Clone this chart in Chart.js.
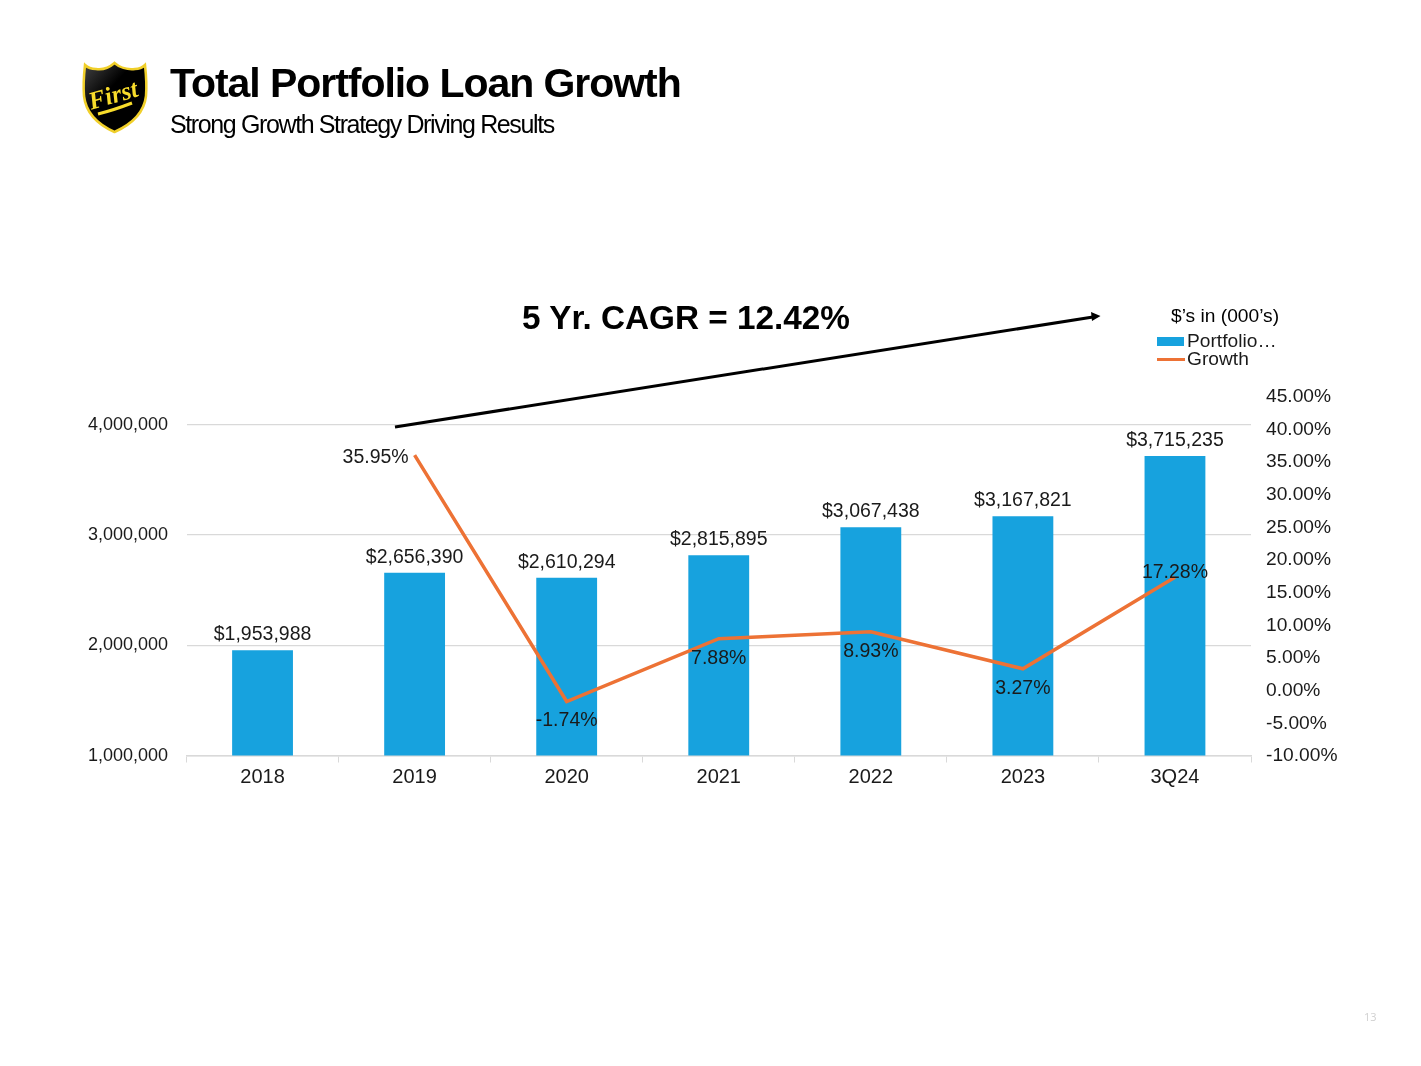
<!DOCTYPE html>
<html><head><meta charset="utf-8">
<style>
html,body{margin:0;padding:0;background:#fff;width:1421px;height:1066px;overflow:hidden;font-family:"Liberation Sans",Arial,sans-serif;color:#000}
#wrap{position:absolute;left:0;top:0;width:1421px;height:1066px}
canvas{position:absolute;left:0;top:0}
.t{position:absolute;white-space:nowrap;line-height:1}
svg{position:absolute;left:0;top:0}
</style>
<script src="https://cdn.jsdelivr.net/npm/chart.js@4"></script>
</head><body>
<div id="wrap">
<canvas id="c" width="1421" height="1066"></canvas>
<svg width="1421" height="1066" viewBox="0 0 1421 1066">
  <defs><linearGradient id="g" x1="0" y1="0" x2="1" y2="1"><stop offset="0" stop-color="#444"/><stop offset=".4" stop-color="#000"/></linearGradient></defs>
  <path d="M114.500 63 C119 67 127 70 135 69 C139 69 143 67 145 65 C146 74 147 84 146 96 C144 114 130 125 114.500 132 C99 125 86 114 84 96 C83 84 84 74 85 65 C88 68 92 69 96 69 C103 70 110 67 114.500 63 Z" fill="url(#g)" stroke="#f0cf2a" stroke-width="2.500"/>
  <text x="114" y="103" text-anchor="middle" transform="rotate(-16 114 98)" font-family="Liberation Serif" font-style="italic" font-weight="bold" font-size="25" fill="#f8dc2b">First</text>
  <path d="M98 114 Q114 110 132 103" fill="none" stroke="#f8dc2b" stroke-width="3"/>
  <line x1="395" y1="427" x2="1093" y2="317" stroke="#000" stroke-width="3"/>
  <path d="M1100.500 316 L1091 312 L1092 321 Z" fill="#000"/>
</svg>
<div class="t" style="left:170px;top:63px;font-size:41px;font-weight:bold;letter-spacing:-1.05px">Total Portfolio Loan Growth</div>
<div class="t" style="left:170px;top:112px;font-size:25px;letter-spacing:-1.38px">Strong Growth Strategy Driving Results</div>
<div class="t" style="left:522px;top:301px;font-size:33.3px;font-weight:bold">5 Yr. CAGR = 12.42%</div>
<div class="t" style="left:1171px;top:306px;font-size:19.2px">$’s in (000’s)</div>
<div class="t" style="left:1364px;top:1011px;font-size:11px;color:#d0d0d0;font-family:'Open Sans'">13</div>
</div>
<script>
const categories = ["2018","2019","2020","2021","2022","2023","3Q24"];
const portfolioValues = [1953988,2656390,2610294,2815895,3067438,3167821,3715235];
const growthValues = [null,35.95,-1.74,7.88,8.93,3.27,17.28];
const seriesNames = ["Portfolio…","Growth"];
const portfolioTicks = [1000000,2000000,3000000,4000000];

const INK = "#1a1a1a";
const BLUE = "#17a2de";
const ORANGE = "#ed7235";
const FONT = "'Liberation Sans', Arial, sans-serif";
const growthLabelOffsets = [null,{dx:-39,dy:2},{dx:0,dy:19.5},{dx:0,dy:19.5},{dx:0,dy:19.5},{dx:0,dy:19.5},{dx:0,dy:-5}];

function swatch(w,h,color){
  const s=document.createElement("canvas");s.width=w;s.height=h;
  const x=s.getContext("2d");x.fillStyle=color;x.fillRect(0,0,w,h);return s;
}
function nudgeLabels(s,dy){
  const draw=s.drawLabels;
  if(s._nudged) return; s._nudged=true;
  s.drawLabels=function(a){const c=this.ctx;c.save();c.translate(0,dy);draw.call(this,a);c.restore();};
}

const labelPlugin = {
  id:"valueLabels",
  afterDatasetsDraw(chart){
    const ctx = chart.ctx;
    ctx.save();
    ctx.font = "19.5px " + FONT;
    ctx.fillStyle = INK;
    ctx.textAlign = "center";
    ctx.textBaseline = "middle";
    chart.getDatasetMeta(0).data.forEach((el,i)=>{
      ctx.fillText("$"+portfolioValues[i].toLocaleString("en-US"), el.x, el.y-15.5);
    });
    chart.getDatasetMeta(1).data.forEach((el,i)=>{
      if(growthValues[i]===null) return;
      const o = growthLabelOffsets[i];
      ctx.fillText(growthValues[i].toFixed(2)+"%", el.x+o.dx, el.y+o.dy);
    });
    ctx.restore();
  }
};
const legendPlace = {
  id:"legendPlace",
  beforeDraw(chart){
    const l = chart.legend, w = l.right-l.left, h = l.bottom-l.top;
    const left = 1164.6, top = 333;
    if(l.legendItems && l.legendHitBoxes){
      const dx = left-l.left, dy = top-l.top;
      l.left=left; l.right=left+w; l.top=top; l.bottom=top+h;
      l.legendHitBoxes.forEach(b=>{b.left+=dx;b.top+=dy;});
      l.draw=function(){this._draw();};
    }
  }
};

new Chart(document.getElementById("c"),{
  type:"bar",
  plugins:[labelPlugin,legendPlace],
  data:{labels:categories,datasets:[
    {type:"bar",label:seriesNames[0],data:portfolioValues,yAxisID:"y",backgroundColor:BLUE,borderWidth:0,barPercentage:0.4,categoryPercentage:1,order:2,pointStyle:swatch(27,9,BLUE)},
    {type:"line",label:seriesNames[1],data:growthValues,yAxisID:"y1",borderColor:ORANGE,backgroundColor:ORANGE,borderWidth:3.5,pointRadius:0,tension:0,spanGaps:false,order:1,pointStyle:swatch(28,3,ORANGE)}
  ]},
  options:{
    responsive:false,animation:false,devicePixelRatio:1,
    layout:{padding:{top:396}},
    plugins:{
      title:{display:false},tooltip:{enabled:false},
      legend:{display:true,position:"chartArea",align:"start",
        labels:{usePointStyle:true,pointStyleWidth:13.8,boxHeight:9,padding:-1,color:INK,font:{family:FONT,size:19.2},sort:(a,b)=>a.datasetIndex-b.datasetIndex}}
    },
    scales:{
      x:{offset:true,
        grid:{display:true,drawOnChartArea:false,drawTicks:true,tickLength:7,color:"#d9d9d9",offset:true},
        border:{display:true,color:"#d9d9d9",width:1.5},
        ticks:{color:INK,font:{family:FONT,size:20},padding:3,maxRotation:0},
        afterFit(s){s.height=310.5;}
      },
      y:{position:"left",min:1000000,max:4258000,
        grid:{color:"#d9d9d9",lineWidth:1.2,drawTicks:false},
        border:{display:false},
        afterBuildTicks(s){s.ticks=portfolioTicks.map(v=>({value:v}));},
        ticks:{padding:18.5,color:INK,font:{family:FONT,size:18},callback:v=>v.toLocaleString("en-US")},
        afterFit(s){s.width=186.5;nudgeLabels(s,0.3);}
      },
      y1:{position:"right",min:-10,max:45,
        grid:{display:false,drawOnChartArea:false,drawTicks:false},
        border:{display:false},
        ticks:{stepSize:5,padding:15,color:INK,font:{family:FONT,size:19.2},callback:v=>v.toFixed(2)+"%"},
        afterFit(s){s.width=170;nudgeLabels(s,0.7);}
      }
    }
  }
});
</script>
</body></html>
